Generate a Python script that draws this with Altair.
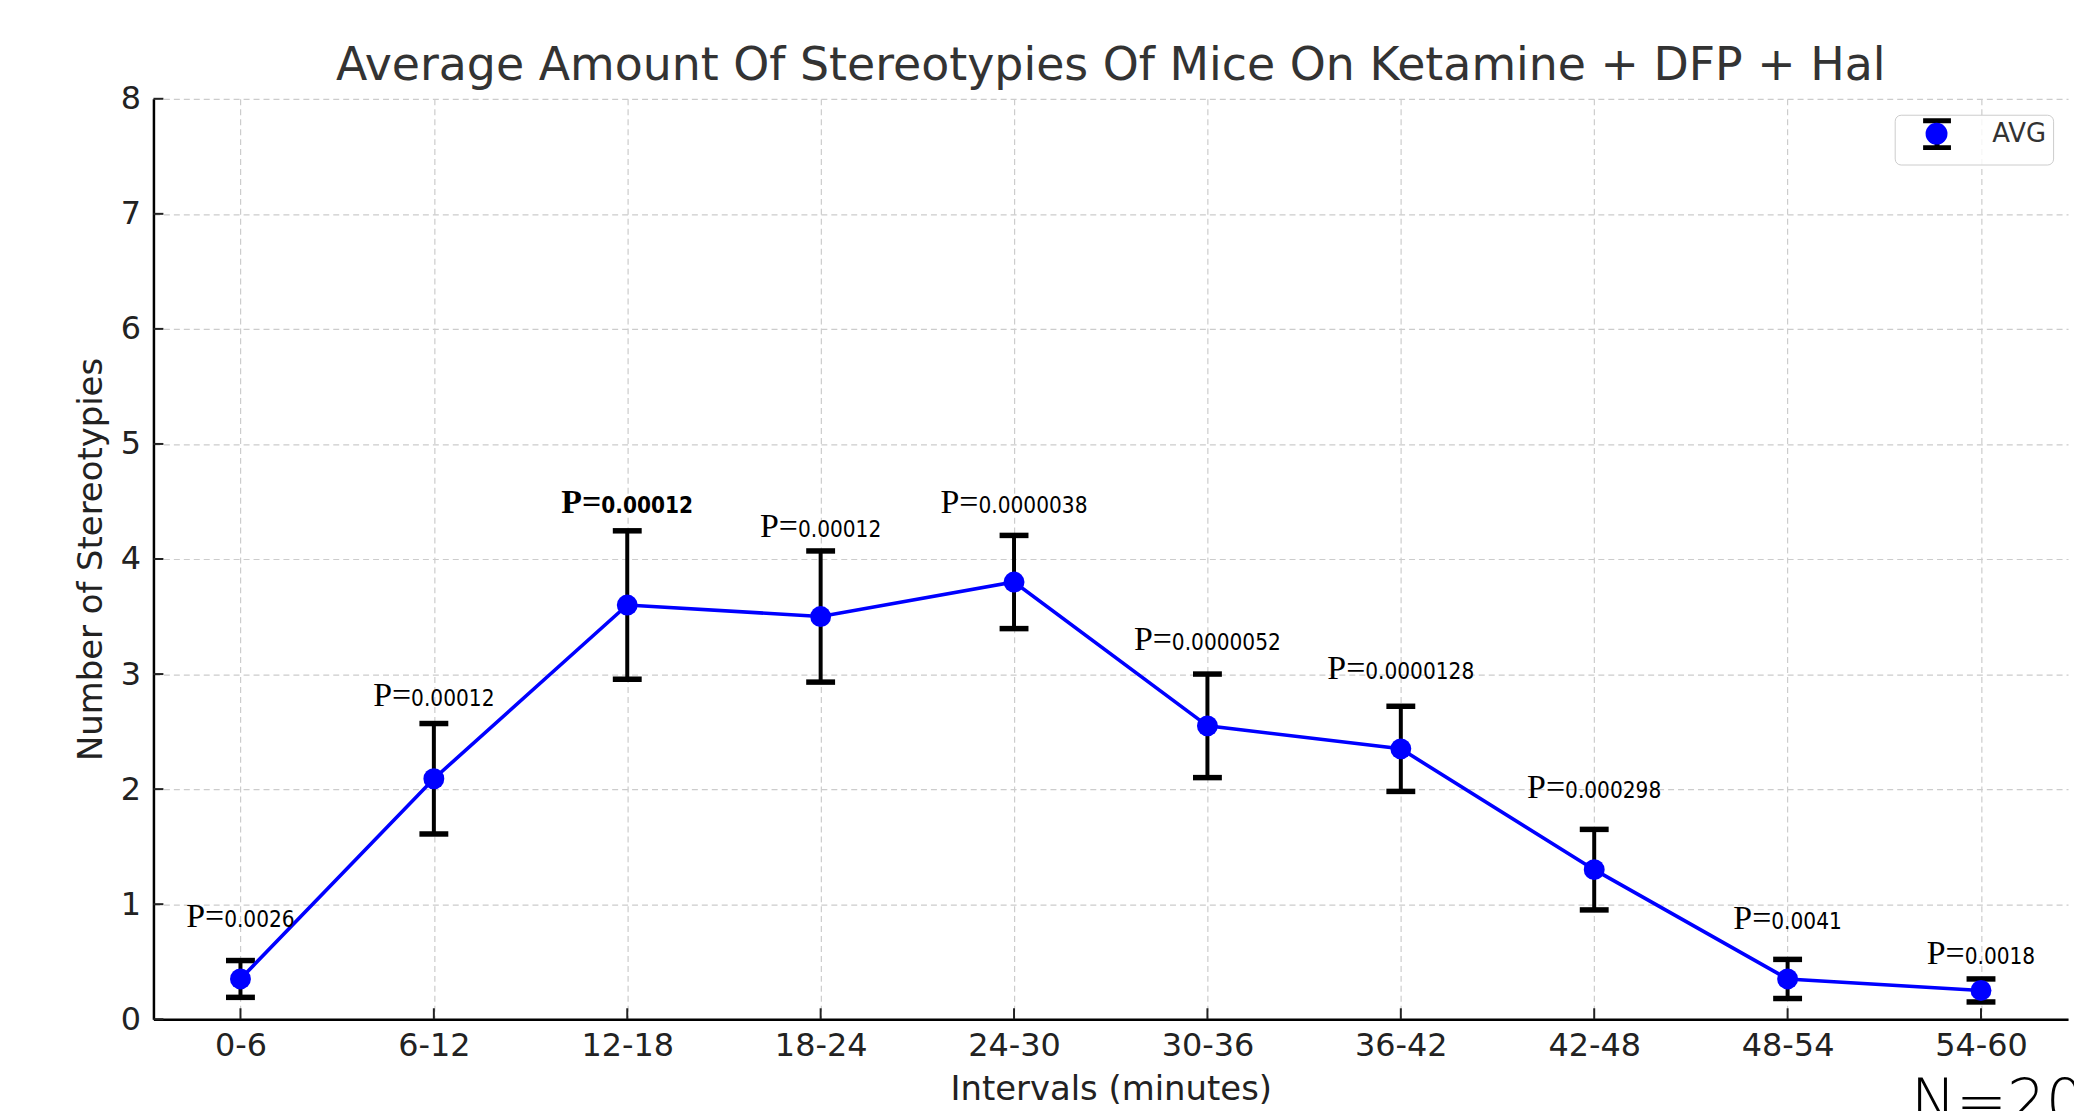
import altair as alt
import pandas as pd

# ---------------- data ----------------
intervals = ["0-6", "6-12", "12-18", "18-24", "24-30", "30-36", "36-42", "42-48", "48-54", "54-60"]
avg = [0.35, 2.09, 3.60, 3.50, 3.80, 2.55, 2.35, 1.30, 0.35, 0.25]
err = [0.16, 0.48, 0.645, 0.57, 0.405, 0.45, 0.37, 0.35, 0.17, 0.10]
p_values = ["0.0026", "0.00012", "0.00012", "0.00012", "0.0000038",
            "0.0000052", "0.0000128", "0.000298", "0.0041", "0.0018"]
p_bold = [False, False, True, False, False, False, False, False, False, False]
p_label_y = [0.80, 2.72, 4.40, 4.19, 4.40, 3.21, 2.96, 1.92, 0.78, 0.48]
y_ticks = [0, 1, 2, 3, 4, 5, 6, 7, 8]
legend_label = "AVG"
sample_note = ["N=20"]
chart_title = "Average Amount Of Stereotypies Of Mice On Ketamine + DFP + Hal"

# ---------------- styling ----------------
W, H = 1922, 924
BLUE = "#0000ff"
PREFIX_SIZE = 34
NUM_SIZE = 22.5
NUM_FONT = "'DejaVu Sans Condensed', 'Liberation Sans Narrow', 'DejaVu Sans', sans-serif"


def prefix_width(bold):
    return (1.181 if bold else 1.12) * PREFIX_SIZE


def number_width(s, bold):
    dw, pw = (0.626, 0.342) if bold else (0.5725, 0.286)
    return sum(pw if c == "." else dw for c in s) * NUM_SIZE


# split point offset so that the whole two-font label is centred on the category
label_dx = []
for s, b in zip(p_values, p_bold):
    pw = prefix_width(b)
    nw = number_width(s, b)
    label_dx.append(-(pw + nw) / 2 + pw)

df = pd.DataFrame({
    "interval": intervals,
    "avg": avg,
    "lo": [a - e for a, e in zip(avg, err)],
    "hi": [a + e for a, e in zip(avg, err)],
    "pnum": p_values,
    "prefix": ["P="] * len(intervals),
    "bold": p_bold,
    "label_y": p_label_y,
    "dx": label_dx,
    "series": [legend_label] * len(intervals),
    "eb": [legend_label + " "] * len(intervals),
})

caps_df = pd.DataFrame({
    "interval": intervals * 2,
    "v": list(df["lo"]) + list(df["hi"]),
})
ytick_df = pd.DataFrame({"t": y_ticks})
note_df = pd.DataFrame({"note": sample_note})

x_scale = alt.Scale(type="point", padding=0.45)
y_scale = alt.Scale(domain=[0, 8], nice=False, zero=True)

X_TITLE = "Intervals (minutes)"
Y_TITLE = "Number of Stereotypies"
x_axis = alt.Axis(labelAngle=0, labelPadding=11, titlePadding=12, ticks=False, grid=True)
y_axis = alt.Axis(values=y_ticks, labelPadding=13, titlePadding=12, ticks=False, grid=True)


def xenc():
    return alt.X("interval:N", sort=intervals, scale=x_scale, title=X_TITLE, axis=x_axis)


def yenc(field):
    return alt.Y(field, scale=y_scale, title=Y_TITLE, axis=y_axis)


# legend symbol: error-bar caps (circle drawn by a second legend on top)
IBEAM = "M-1.27,-1.23L1.27,-1.23M0,-1.23L0,-0.85M-1.27,1.23L1.27,1.23M0,1.23L0,0.85"

common_legend = dict(
    title=None, orient="none", legendX=1748, legendY=16, padding=6,
    symbolSize=484, symbolOffset=23, labelOffset=42,
    labelFontSize=26, labelFont="DejaVu Sans", labelColor="#333333",
)
eb_legend = alt.Legend(
    symbolType=IBEAM, symbolStrokeWidth=5, labelExpr="'AVG\u00a0\u00a0'",
    fillColor="rgba(255,255,255,0.8)", strokeColor="#cccccc", cornerRadius=6,
    **common_legend,
)
pt_legend = alt.Legend(
    symbolType="circle", symbolStrokeWidth=0, labelExpr="''",
    **common_legend,
)

rules = alt.Chart(df).mark_rule(strokeWidth=4).encode(
    x=xenc(),
    y=yenc("lo:Q"),
    y2="hi:Q",
    stroke=alt.Stroke("eb:N", scale=alt.Scale(domain=[legend_label + " "], range=["#000000"]),
                      legend=eb_legend),
)

caps = alt.Chart(caps_df).mark_tick(size=29, thickness=5.5, color="#000000", opacity=1).encode(
    x=xenc(),
    y=yenc("v:Q"),
)

line = alt.Chart(df).mark_line(color=BLUE, strokeWidth=3.6).encode(
    x=xenc(),
    y=yenc("avg:Q"),
)

points = alt.Chart(df).mark_circle(size=440, opacity=1).encode(
    x=xenc(),
    y=yenc("avg:Q"),
    fill=alt.Fill("series:N", scale=alt.Scale(domain=[legend_label], range=[BLUE]),
                  legend=pt_legend),
)

xticks = alt.Chart(df).mark_tick(orient="vertical", size=11, thickness=2,
                                 color="#222222", yOffset=-5.5, opacity=1).encode(
    x=xenc(),
    y=alt.YDatum(0, scale=y_scale, title=Y_TITLE, axis=y_axis),
)

yticks = alt.Chart(ytick_df).mark_tick(orient="horizontal", size=10, thickness=2,
                                       color="#222222", opacity=1).encode(
    y=yenc("t:Q"),
    x=alt.value(5),
)

p_prefix = alt.Chart(df).mark_text(
    align="right", baseline="alphabetic", font="Liberation Serif",
    fontSize=PREFIX_SIZE, color="#000000",
    dx={"expr": "datum.dx"},
    fontWeight={"expr": "datum.bold ? 'bold' : 'normal'"},
).encode(
    x=xenc(),
    y=yenc("label_y:Q"),
    text="prefix:N",
)

p_number = alt.Chart(df).mark_text(
    align="left", baseline="alphabetic", font=NUM_FONT,
    fontSize=NUM_SIZE, color="#000000",
    dx={"expr": "datum.dx"},
    fontWeight={"expr": "datum.bold ? 'bold' : 'normal'"},
).encode(
    x=xenc(),
    y=yenc("label_y:Q"),
    text="pnum:N",
)

note = alt.Chart(note_df).mark_text(
    align="left", baseline="alphabetic", font="DejaVu Sans", fontWeight=200,
    fontSize=61, color="#000000",
).encode(
    text="note:N",
    x=alt.value(1764),
    y=alt.value(1027),
)

chart = alt.layer(
    rules, caps, line, points, xticks, yticks, p_prefix, p_number, note
).properties(
    width=W, height=H,
    title=alt.Title(chart_title, fontSize=46, font="DejaVu Sans", fontWeight="normal",
                    color="#333333", anchor="middle", offset=-7),
    padding={"left": 146, "top": 89, "right": 6, "bottom": 90},
    autosize=alt.AutoSizeParams(type="none"),
).configure_view(
    stroke=None
).configure_axis(
    domainColor="#000000", domainWidth=2.5,
    gridColor="#cccccc", gridDash=[6, 4], gridWidth=1.2,
    labelFont="DejaVu Sans", labelFontSize=32, labelColor="#222222",
    titleFont="DejaVu Sans", titleFontSize=34, titleFontWeight="normal",
    titleColor="#222222",
)

chart.save("out.html", embed_options={"renderer": "svg", "actions": False})
